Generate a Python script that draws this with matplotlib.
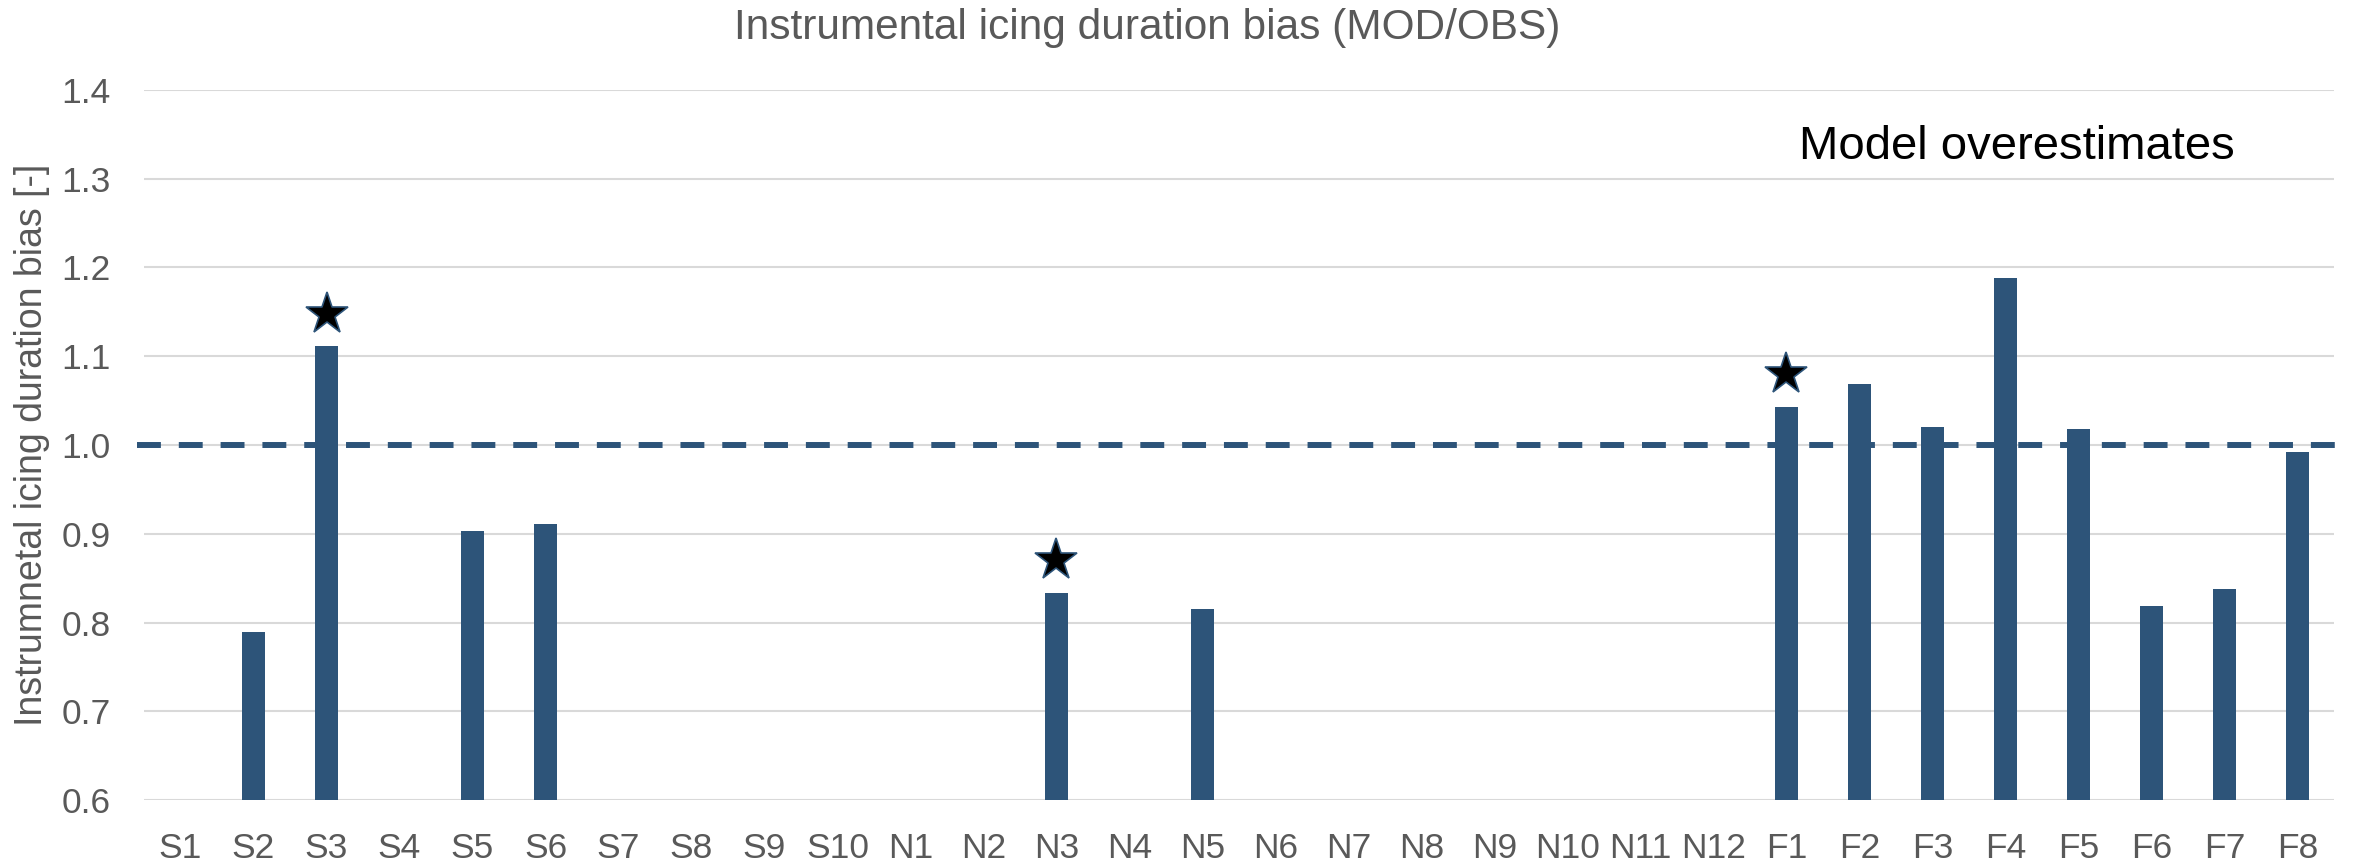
import numpy as np
import matplotlib.pyplot as plt

plt.rcParams['font.family'] = ['Liberation Sans', 'DejaVu Sans']

# Stations: S = south, N = north, F = field sites
stations = ([f"S{i}" for i in range(1, 11)] +
            [f"N{i}" for i in range(1, 13)] +
            [f"F{i}" for i in range(1, 9)])

# MOD/OBS ratio of instrumental icing duration (nan = no data)
bias = [np.nan, 0.789, 1.111, np.nan, 0.903, 0.911, np.nan, np.nan, np.nan, np.nan,
        np.nan, np.nan, 0.833, np.nan, 0.815, np.nan, np.nan, np.nan, np.nan, np.nan,
        np.nan, np.nan,
        1.043, 1.069, 1.020, 1.188, 1.018, 0.819, 0.838, 0.992]

# stations flagged with a star
starred = ["S3", "N3", "F1"]

bar_color = '#2d5479'
text_gray = '#595959'

fig = plt.figure(figsize=(23.61, 8.65), dpi=100)
ax = fig.add_axes([0.061, 0.0751, 0.9275, 0.8209])

x = np.arange(len(stations))
ax.bar(x, np.array(bias) - 0.6, bottom=0.6, width=0.31, color=bar_color, zorder=3)

# reference line at ratio 1 (slightly overhanging the plot area)
ax.plot([-0.6, len(stations) - 0.35], [1.0, 1.0], color=bar_color, lw=4.3,
        dashes=(4, 3), clip_on=False, zorder=4)

for name in starred:
    i = stations.index(name)
    ax.plot(i, bias[i] + 0.037, marker='*', markersize=32, color='black',
            markeredgecolor=bar_color, markeredgewidth=1.2, zorder=5)

ax.set_xlim(-0.5, len(stations) - 0.5)
ax.set_ylim(0.6, 1.4)
ax.set_yticks(np.arange(0.6, 1.41, 0.1))
ax.set_yticklabels([f"{v:.1f}" for v in np.arange(0.6, 1.41, 0.1)])
ax.set_xticks(x)
ax.set_xticklabels(stations)
ax.tick_params(axis='both', length=0, labelsize=25.5, labelcolor=text_gray)
ax.tick_params(axis='x', pad=23)
ax.tick_params(axis='y', pad=24)
ax.grid(axis='y', color='#d9d9d9', lw=1.5, zorder=0)
for s in ax.spines.values():
    s.set_visible(False)

ax.set_ylabel("Instrumnetal icing duration bias [-]", fontsize=27, color=text_gray)
ax.yaxis.set_label_coords(-0.043, 0.5)

fig.text(0.486, 0.968, "Instrumental icing duration bias (MOD/OBS)",
         ha='center', va='center', fontsize=30.5, color=text_gray)
fig.text(2017 / 2361, 1 - 147 / 865, "Model overestimates",
         ha='center', va='center', fontsize=34, color='black')

fig.savefig('out.png', dpi=100)
